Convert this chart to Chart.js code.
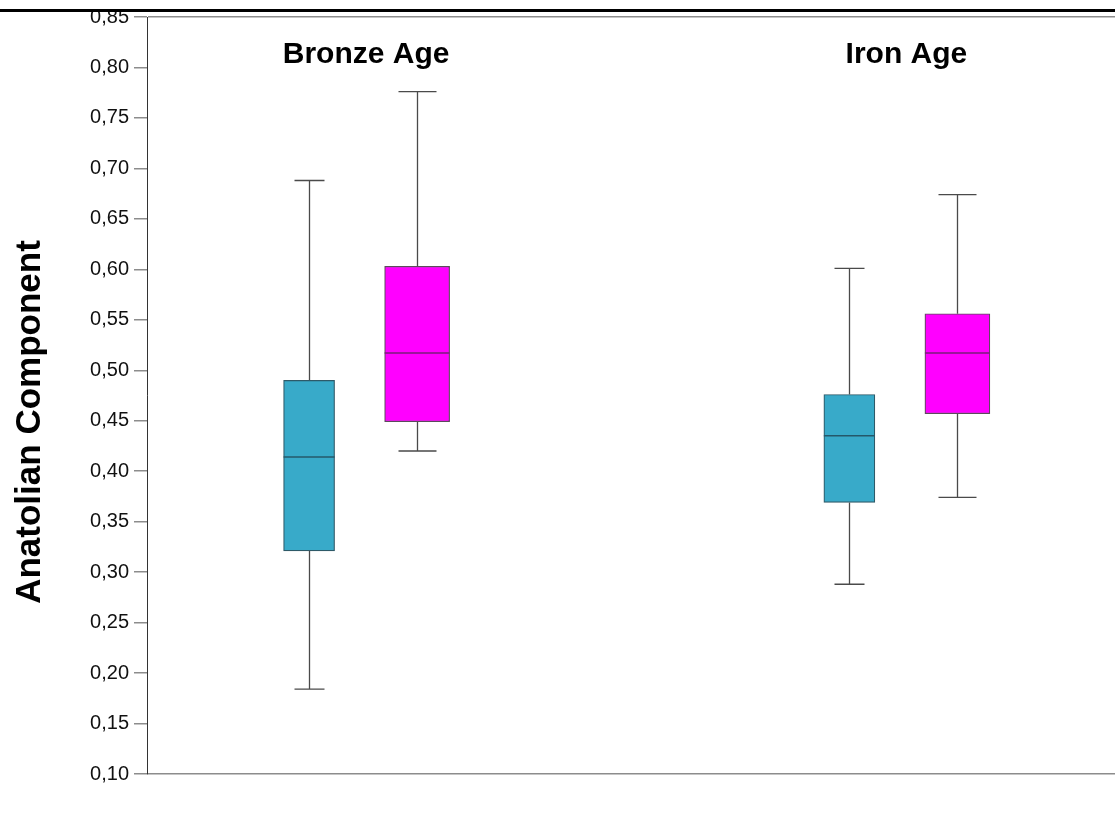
<!DOCTYPE html>
<html>
<head>
<meta charset="utf-8">
<script src="https://cdn.jsdelivr.net/npm/chart.js@4.4.1/dist/chart.umd.min.js"></script>
<style>
  html, body { margin: 0; padding: 0; background: #fff; }
  #wrap { width: 1115px; height: 816px; position: relative; }
</style>
</head>
<body>
<div id="wrap"><canvas id="chart"></canvas></div>
<script>
// groups along the x axis
const categories = ['Bronze Age', 'Iron Age'];
const groupPos = [1, 2];

// first series (teal)
const tealMin = [0.184, 0.288];
const tealQ1 = [0.321, 0.369];
const tealMedian = [0.414, 0.435];
const tealQ3 = [0.490, 0.476];
const tealMax = [0.688, 0.601];

// second series (magenta)
const pinkMin = [0.420, 0.374];
const pinkQ1 = [0.449, 0.457];
const pinkMedian = [0.517, 0.517];
const pinkQ3 = [0.603, 0.556];
const pinkMax = [0.776, 0.674];

const yTicks = [0.10, 0.15, 0.20, 0.25, 0.30, 0.35, 0.40, 0.45, 0.50, 0.55, 0.60, 0.65, 0.70, 0.75, 0.80, 0.85];

const FONT = "'Liberation Sans', Arial, Helvetica, sans-serif";

function boxSeries(offset, q1, q3) {
    return groupPos.map((g, i) => ({ x: g + offset, y: [q1[i], q3[i]] }));
}

const series = [
    { offset: -0.1, min: tealMin, q1: tealQ1, med: tealMedian, q3: tealQ3, max: tealMax,
      fill: '#38aac9', border: '#2e5a68', median: '#24586a', width: 51, cap: 30 },
    { offset: 0.1, min: pinkMin, q1: pinkQ1, med: pinkMedian, q3: pinkQ3, max: pinkMax,
      fill: '#ff00ff', border: '#5c4a5c', median: '#7a1c7a', width: 65, cap: 38 }
];

// whiskers behind the boxes, medians and group names on top
const boxExtras = {
    id: 'boxExtras',
    beforeDatasetsDraw(chart) {
        const { ctx, scales: { x, y } } = chart;
        ctx.save();
        ctx.strokeStyle = '#4a4a4a';
        ctx.lineWidth = 1.3;
        series.forEach(s => {
            groupPos.forEach((g, i) => {
                const px = Math.round(x.getPixelForValue(g + s.offset)) + 0.5;
                const half = s.cap / 2;
                ctx.beginPath();
                ctx.moveTo(px, y.getPixelForValue(s.max[i]));
                ctx.lineTo(px, y.getPixelForValue(s.q3[i]));
                ctx.moveTo(px, y.getPixelForValue(s.q1[i]));
                ctx.lineTo(px, y.getPixelForValue(s.min[i]));
                ctx.moveTo(px - half, y.getPixelForValue(s.max[i]));
                ctx.lineTo(px + half, y.getPixelForValue(s.max[i]));
                ctx.moveTo(px - half, y.getPixelForValue(s.min[i]));
                ctx.lineTo(px + half, y.getPixelForValue(s.min[i]));
                ctx.stroke();
            });
        });
        ctx.restore();
    },
    afterDatasetsDraw(chart) {
        const { ctx, scales: { x, y } } = chart;
        ctx.save();
        ctx.lineWidth = 1.5;
        series.forEach(s => {
            ctx.strokeStyle = s.median;
            groupPos.forEach((g, i) => {
                const px = x.getPixelForValue(g + s.offset);
                const py = y.getPixelForValue(s.med[i]);
                ctx.beginPath();
                ctx.moveTo(px - s.width / 2, py);
                ctx.lineTo(px + s.width / 2, py);
                ctx.stroke();
            });
        });
        ctx.fillStyle = '#000';
        ctx.font = 'bold 30px ' + FONT;
        ctx.textAlign = 'center';
        ctx.textBaseline = 'alphabetic';
        categories.forEach((c, i) => {
            ctx.fillText(c, x.getPixelForValue(groupPos[i]) + 3, 63);
        });
        ctx.restore();
    },
    afterDraw(chart) {
        const { ctx, width } = chart;
        ctx.save();
        ctx.fillStyle = '#000';
        ctx.fillRect(0, 9, width, 3);
        ctx.translate(40, 422);
        ctx.rotate(-Math.PI / 2);
        ctx.font = 'bold 35px ' + FONT;
        ctx.textAlign = 'center';
        ctx.textBaseline = 'alphabetic';
        ctx.fillText('Anatolian Component', 0, 0);
        ctx.restore();
    }
};

new Chart(document.getElementById('chart'), {
    type: 'bar',
    data: {
        datasets: series.map(s => ({
            data: boxSeries(s.offset, s.q1, s.q3),
            backgroundColor: s.fill,
            borderColor: s.border,
            borderWidth: 1.2,
            borderSkipped: false,
            barThickness: s.width,
            grouped: false
        }))
    },
    options: {
        responsive: true,
        maintainAspectRatio: false,
        animation: false,
        layout: { padding: { top: 17, bottom: 42, left: 0, right: 0 } },
        plugins: {
            legend: { display: false },
            tooltip: { enabled: false }
        },
        scales: {
            x: {
                type: 'linear',
                min: 0.6,
                max: 2.3917,
                offset: false,
                display: false
            },
            y: {
                min: 0.1,
                max: 0.85,
                afterFit(scale) { scale.width = 147; },
                afterBuildTicks(scale) { scale.ticks = yTicks.map(v => ({ value: v })); },
                ticks: {
                    color: '#111',
                    padding: 5,
                    font: { family: FONT, size: 20 },
                    callback: v => v.toFixed(2).replace('.', ',')
                },
                grid: {
                    drawOnChartArea: true,
                    tickLength: 13,
                    tickColor: '#8c8c8c',
                    lineWidth: 1.5,
                    color: ctx => (ctx.index === 0 || ctx.index === yTicks.length - 1) ? '#8c8c8c' : 'rgba(0,0,0,0)'
                },
                border: { color: '#333', width: 1 }
            }
        }
    },
    plugins: [boxExtras]
});
</script>
</body>
</html>
